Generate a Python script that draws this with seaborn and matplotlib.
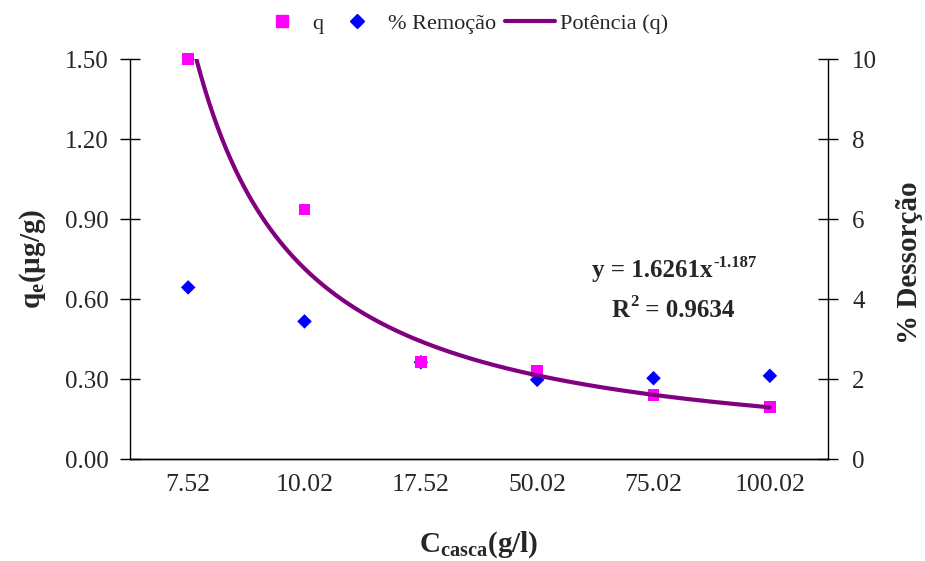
import numpy as np
import pandas as pd
import matplotlib
matplotlib.use("Agg")
import matplotlib.pyplot as plt
from matplotlib.lines import Line2D
import seaborn as sns

# Shell concentration categories (g/l)
categories = ["7.52", "10.02", "17.52", "50.02", "75.02", "100.02"]
# Adsorbed amount q (µg/g) – left axis
q_values = [1.50, 0.935, 0.363, 0.329, 0.241, 0.194]
# % removal – right axis
removal_values = [4.29, 3.44, 2.42, 1.98, 2.02, 2.08]
# Power trendline fitted to q: y = a * x^b (x = category index)
fit_a = 1.6261
fit_b = -1.187
fit_r2 = 0.9634

sns.set_theme(style="white")
plt.rcParams["font.family"] = ["Liberation Serif", "DejaVu Serif"]
plt.rcParams["mathtext.fontset"] = "custom"
plt.rcParams["mathtext.rm"] = "Liberation Serif"
plt.rcParams["mathtext.bf"] = "Liberation Serif:bold"
plt.rcParams["mathtext.it"] = "Liberation Serif:italic"

pos = np.arange(1, len(categories) + 1)
df = pd.DataFrame({"pos": pos, "q": q_values, "removal": removal_values})

x_fit = np.linspace(1, len(categories), 400)
fit_df = pd.DataFrame({"x": x_fit, "y": fit_a * x_fit ** fit_b})

fig = plt.figure(figsize=(9.25, 5.61), dpi=100)
ax = fig.add_axes([130 / 925, 1 - 459 / 561, 698 / 925, 400 / 561])
ax2 = ax.twinx()

pink = "#FF00FF"
blue = "#0000FF"
purple = "#800080"

sns.scatterplot(data=df, x="pos", y="q", ax=ax, marker="s", s=70,
                color=pink, edgecolor="none", zorder=3, legend=False,
                clip_on=False)
sns.lineplot(data=fit_df, x="x", y="y", ax=ax, color=purple, linewidth=3,
             zorder=4, legend=False)
sns.scatterplot(data=df, x="pos", y="removal", ax=ax2, marker="D", s=55,
                color=blue, edgecolor="none", zorder=5, legend=False,
                clip_on=False)

ax.set_xlim(0.5, len(categories) + 0.5)
ax.set_ylim(0, 1.5)
ax2.set_ylim(0, 10)
ax.set_zorder(ax2.get_zorder() + 1)
ax.patch.set_visible(False)

# Category boundaries as major ticks, labels centred as minor ticks
ax.set_xticks(np.arange(0.5, len(categories) + 1, 1.0))
ax.set_xticklabels([])
ax.set_xticks(pos, minor=True)
ax.set_xticklabels(categories, minor=True)
ax.tick_params(axis="x", which="major", direction="inout", length=16,
               width=1, color="black")
ax.tick_params(axis="x", which="minor", length=0, pad=11, labelsize=18.5)

ax.set_yticks(np.arange(0, 1.51, 0.3))
ax.set_yticklabels([f"{v:.2f}" for v in np.arange(0, 1.51, 0.3)])
ax.tick_params(axis="y", direction="inout", length=15, width=1,
               color="black", labelsize=18, pad=8, left=True)
ax2.set_yticks(np.arange(0, 11, 2))
ax2.tick_params(axis="y", direction="inout", length=15, width=1,
                color="black", labelsize=18, pad=10, right=True)

for a in (ax, ax2):
    for side in ("left", "right", "bottom"):
        a.spines[side].set_visible(True)
        a.spines[side].set_color("black")
        a.spines[side].set_linewidth(1)
    a.spines["top"].set_visible(False)
ax.spines["right"].set_visible(False)
ax2.spines["left"].set_visible(False)

ax.set_xlabel(r"$\mathbf{C_{casca}(g/l)}$", fontsize=21, labelpad=24)
ax.set_ylabel(r"$\mathbf{q_{e}(µg/g)}$", fontsize=21, labelpad=12)
ax2.set_ylabel("% Dessorção", fontsize=21, fontweight="bold")
ax2.yaxis.set_label_coords(1.097, 0.49)

# Trendline equation and coefficient of determination
eq_kw = dict(fontsize=18, fontweight="bold")
sup_kw = dict(fontsize=12, fontweight="bold")
t_eq = ax.text(4.47, 0.681, f"y = {fit_a}x", ha="left", va="baseline",
               **eq_kw)
ax.annotate(f"{fit_b}", xy=(1, 1), xycoords=t_eq, xytext=(0.5, 3.5),
            textcoords="offset points", ha="left", va="top", **sup_kw)
t_r = ax.text(4.64, 0.534, "R", ha="left", va="baseline", **eq_kw)
t_2 = ax.annotate("2", xy=(1, 1), xycoords=t_r, xytext=(0.5, 3.5),
                  textcoords="offset points", ha="left", va="top", **sup_kw)
ax.annotate(f" = {fit_r2}", xy=(1, 0), xycoords=(t_2, t_r), ha="left",
            va="bottom", **eq_kw)

handles = [
    Line2D([], [], marker="s", color=pink, linestyle="none", markersize=8),
    Line2D([], [], marker="D", color=blue, linestyle="none", markersize=7.6),
    Line2D([], [], color=purple, linewidth=3),
]
fig.legend(handles, ["q", "% Remoção", "Potência (q)"], loc="upper center",
           bbox_to_anchor=(0.5, 1.012), ncol=3, frameon=False, fontsize=16,
           handlelength=2.25, columnspacing=0.4, handletextpad=0.25)

fig.savefig("out.png", dpi=100)
